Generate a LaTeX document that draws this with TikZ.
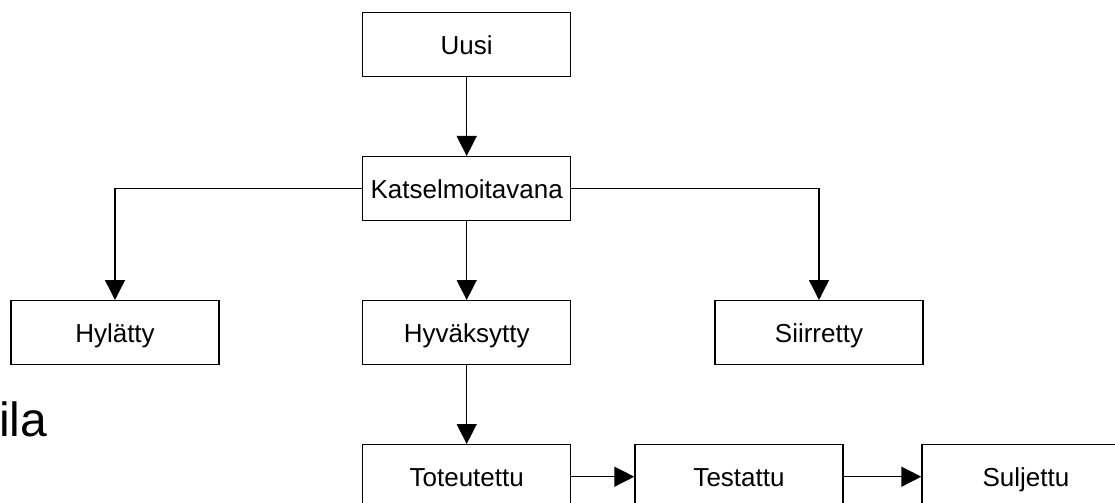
\documentclass[tikz,border=0pt]{standalone}
\usepackage{fontspec}
\setmainfont{Liberation Sans}
\usetikzlibrary{arrows.meta}

\tikzset{
  tila/.style={draw, line width=1.05pt, rectangle, minimum width=156pt, minimum height=48pt,
    inner sep=0pt, text height=14pt, text depth=0pt, font=\fontsize{19.5}{23}\selectfont},
  siirtyma/.style={line width=1.05pt, -{Triangle[width=15pt,length=15pt]}}
}

\begin{document}
\begin{tikzpicture}[x=0.75pt, y=-0.75pt]
        \useasboundingbox (0,0) rectangle (1115,503);
        \clip (0,0) rectangle (1115,503);
        \node[tila] (uusi) at (466.7,44.7) {Uusi};
        \node[tila] (katsel) at (466.7,188.7) {Katselmoitavana};
        \node[tila] (hylatty) at (115,332.7) {Hylätty};
        \node[tila] (hyvaks) at (466.7,332.7) {Hyväksytty};
        \node[tila] (siirr) at (819,332.7) {Siirretty};
        \node[tila] (toteut) at (466.7,476.7) {Toteutettu};
        \node[tila] (testat) at (739,476.7) {Testattu};
        \node[tila] (suljet) at (1026,476.7) {Suljettu};
        \node[anchor=base west, inner sep=0pt, font=\fontsize{36}{40}\selectfont] (tila) at (-1,436.7) {ila};
        \draw[siirtyma] (uusi) -- (katsel);
        \draw[siirtyma] (katsel.west) -| (hylatty.north);
        \draw[siirtyma] (katsel) -- (hyvaks);
        \draw[siirtyma] (katsel.east) -| (siirr.north);
        \draw[siirtyma] (hyvaks) -- (toteut);
        \draw[siirtyma] (toteut) -- (testat);
        \draw[siirtyma] (testat) -- (suljet);
      \end{tikzpicture}
\end{document}
